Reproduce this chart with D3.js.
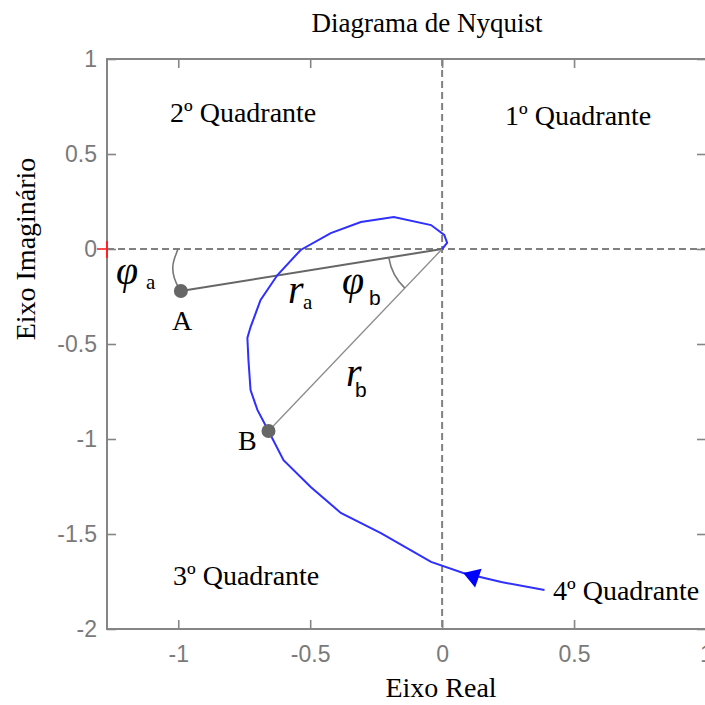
<!DOCTYPE html>
<html>
<head>
<meta charset="utf-8">
<script src="https://cdn.jsdelivr.net/npm/d3@7"></script>
<style>
  body { margin: 0; background: #fff; }
  svg { display: block; }
  .serif { font-family: "Liberation Serif", "Times New Roman", serif; fill: #000; }
  .tick text { font-family: "Liberation Sans", Arial, sans-serif; fill: #7a7a7a; }
</style>
</head>
<body>
<div id="chart"></div>
<script>
// nyquist curve (start -> end)
var nyqRe = [0.388, 0.224, 0.080, -0.042, -0.232, -0.384, -0.498, -0.601, -0.658, -0.700, -0.726, -0.734,
             -0.738, -0.726, -0.688, -0.624, -0.536, -0.422, -0.308, -0.183, -0.042, 0.008, 0.019, 0.0];
var nyqIm = [-1.795, -1.753, -1.705, -1.647, -1.495, -1.389, -1.253, -1.111, -0.958, -0.847, -0.742, -0.584,
             -0.468, -0.411, -0.268, -0.137, -0.005, 0.084, 0.142, 0.168, 0.126, 0.074, 0.032, 0.0];
var arrowIndex = 2;

var pointNames = ['A', 'B'];
var pointRe = [-0.99, -0.658];
var pointIm = [-0.221, -0.958];

var xTicks = [-1, -0.5, 0, 0.5, 1];
var yTicks = [1, 0.5, 0, -0.5, -1, -1.5, -2];

var quadLabels = ['1º Quadrante', '2º Quadrante', '3º Quadrante', '4º Quadrante'];

var width = 705, height = 705;
var mLeft = 107, mRight = 706, mTop = 59, mBottom = 629;

var svg = d3.select('#chart').append('svg')
  .attr('width', width).attr('height', height);

var x = d3.scaleLinear().domain([-1.27, 1]).range([mLeft, mRight]);
var y = d3.scaleLinear().domain([-2, 1]).range([mBottom, mTop]);

var axisColor = '#858585';
var fmt = function(d) { return String(d); };

// axes, ticks pointing inward
var gl = svg.append('g').attr('transform', 'translate(' + mLeft + ',0)')
  .call(d3.axisLeft(y).tickValues(yTicks).tickFormat(fmt).tickSizeInner(-9).tickSizeOuter(0).tickPadding(10));
var gb = svg.append('g').attr('transform', 'translate(0,' + mBottom + ')')
  .call(d3.axisBottom(x).tickValues(xTicks).tickFormat(fmt).tickSizeInner(-9).tickSizeOuter(0).tickPadding(17));
var gt = svg.append('g').attr('transform', 'translate(0,' + mTop + ')')
  .call(d3.axisTop(x).tickValues(xTicks).tickFormat('').tickSizeInner(-9).tickSizeOuter(0));
var gr = svg.append('g').attr('transform', 'translate(' + mRight + ',0)')
  .call(d3.axisRight(y).tickValues(yTicks).tickFormat('').tickSizeInner(-9).tickSizeOuter(0));

[gl, gb, gt, gr].forEach(function(g) {
  g.select('.domain').remove();
  g.selectAll('.tick line').attr('stroke', axisColor).attr('stroke-width', 1.6);
  g.selectAll('.tick text').attr('font-size', 23);
});

// frame
svg.append('path')
  .attr('d', 'M' + mRight + ',' + mTop + 'H' + mLeft + 'V' + mBottom + 'H' + mRight + 'Z')
  .attr('fill', 'none').attr('stroke', axisColor).attr('stroke-width', 2);

// dashed zero lines
svg.append('line').attr('x1', mLeft).attr('x2', width).attr('y1', y(0)).attr('y2', y(0))
  .attr('stroke', '#808080').attr('stroke-width', 2).attr('stroke-dasharray', '7,4');
svg.append('line').attr('x1', x(0)).attr('x2', x(0)).attr('y1', mTop).attr('y2', mBottom)
  .attr('stroke', '#808080').attr('stroke-width', 2).attr('stroke-dasharray', '7,4');

// red mark at y = 0
svg.append('line').attr('x1', mLeft - 10).attr('x2', mLeft).attr('y1', y(0)).attr('y2', y(0))
  .attr('stroke', '#ff2020').attr('stroke-width', 1.6);
svg.append('line').attr('x1', mLeft).attr('x2', mLeft).attr('y1', y(0) - 8).attr('y2', y(0) + 9)
  .attr('stroke', '#ff2020').attr('stroke-width', 2);

// radius lines from the origin to A and B
pointNames.forEach(function(n, i) {
  svg.append('line')
    .attr('x1', x(0)).attr('y1', y(0))
    .attr('x2', x(pointRe[i])).attr('y2', y(pointIm[i]))
    .attr('stroke', i == 0 ? '#666' : '#8a8a8a')
    .attr('stroke-width', i == 0 ? 2 : 1.3);
});

// angle marks
var ax = x(pointRe[0]), ay = y(pointIm[0]);
svg.append('path')
  .attr('d', 'M' + (ax - 3) + ',' + y(0) + ' C' + (ax - 5) + ',' + (y(0) + 8) + ' ' + (ax - 14) + ',' + (y(0) + 18) +
    ' ' + (ax - 2) + ',' + (ay - 3))
  .attr('fill', 'none').attr('stroke', '#777').attr('stroke-width', 1.6);

var angA = Math.atan2(y(pointIm[0]) - y(0), x(pointRe[0]) - x(0));
var angB = Math.atan2(y(pointIm[1]) - y(0), x(pointRe[1]) - x(0));
var rad = 54;
svg.append('path')
  .attr('d', 'M' + (x(0) + rad * Math.cos(angA)) + ',' + (y(0) + rad * Math.sin(angA)) +
    ' A' + rad + ',' + rad + ' 0 0 0 ' + (x(0) + rad * Math.cos(angB)) + ',' + (y(0) + rad * Math.sin(angB)))
  .attr('fill', 'none').attr('stroke', '#777').attr('stroke-width', 1.6);

// the nyquist curve
var line = d3.line()
  .x(function(d, i) { return x(nyqRe[i]); })
  .y(function(d, i) { return y(nyqIm[i]); });
svg.append('path').datum(nyqRe)
  .attr('d', line)
  .attr('fill', 'none').attr('stroke', '#2f2fff').attr('stroke-width', 2);

// direction arrow
var p0x = x(nyqRe[arrowIndex]), p0y = y(nyqIm[arrowIndex]);
var p1x = x(nyqRe[arrowIndex + 1]), p1y = y(nyqIm[arrowIndex + 1]);
var ang = Math.atan2(p1y - p0y, p1x - p0x) * 180 / Math.PI;
svg.append('path')
  .attr('d', 'M0,0 L16,-10 L16,10 Z')
  .attr('transform', 'translate(' + p0x + ',' + p0y + ') rotate(' + (ang + 180) + ')')
  .attr('fill', '#0000ff');

// points A, B
svg.selectAll('circle.pt').data(pointNames).enter().append('circle')
  .attr('class', 'pt')
  .attr('cx', function(d, i) { return x(pointRe[i]); })
  .attr('cy', function(d, i) { return y(pointIm[i]); })
  .attr('r', 7).attr('fill', '#666');

// texts
function txt(s, px, py, size, anchor) {
  return svg.append('text').attr('class', 'serif')
    .attr('x', px).attr('y', py).attr('font-size', size)
    .attr('text-anchor', anchor || 'start').text(s);
}

txt('Diagrama de Nyquist', 427, 32, 27, 'middle');
txt(quadLabels[0], 505, 125, 28);
txt(quadLabels[1], 170, 122, 28);
txt(quadLabels[2], 173, 585, 28);
txt(quadLabels[3], 553, 600, 28);
txt('Eixo Real', 441, 697, 28, 'middle');
svg.append('text').attr('class', 'serif')
  .attr('transform', 'translate(35,' + y(0) + ') rotate(-90)')
  .attr('text-anchor', 'middle').attr('font-size', 28).text('Eixo Imaginário');

txt(pointNames[0], 172, 330, 28);
txt(pointNames[1], 238, 450, 28);

function sym(main, sub, px, py, sx, sy, subSans) {
  txt(main, px, py, 40).attr('font-style', 'italic');
  var t = txt(sub, sx, sy, 21);
  if (subSans) t.style('font-family', '"Liberation Sans", Arial, sans-serif');
}
sym('φ', 'a', 116, 284, 146, 289);
sym('r', 'a', 288, 303, 303, 309);
sym('φ', 'b', 342, 294, 369, 305, true);
sym('r', 'b', 346, 386, 355, 397, true);
</script>
</body>
</html>
